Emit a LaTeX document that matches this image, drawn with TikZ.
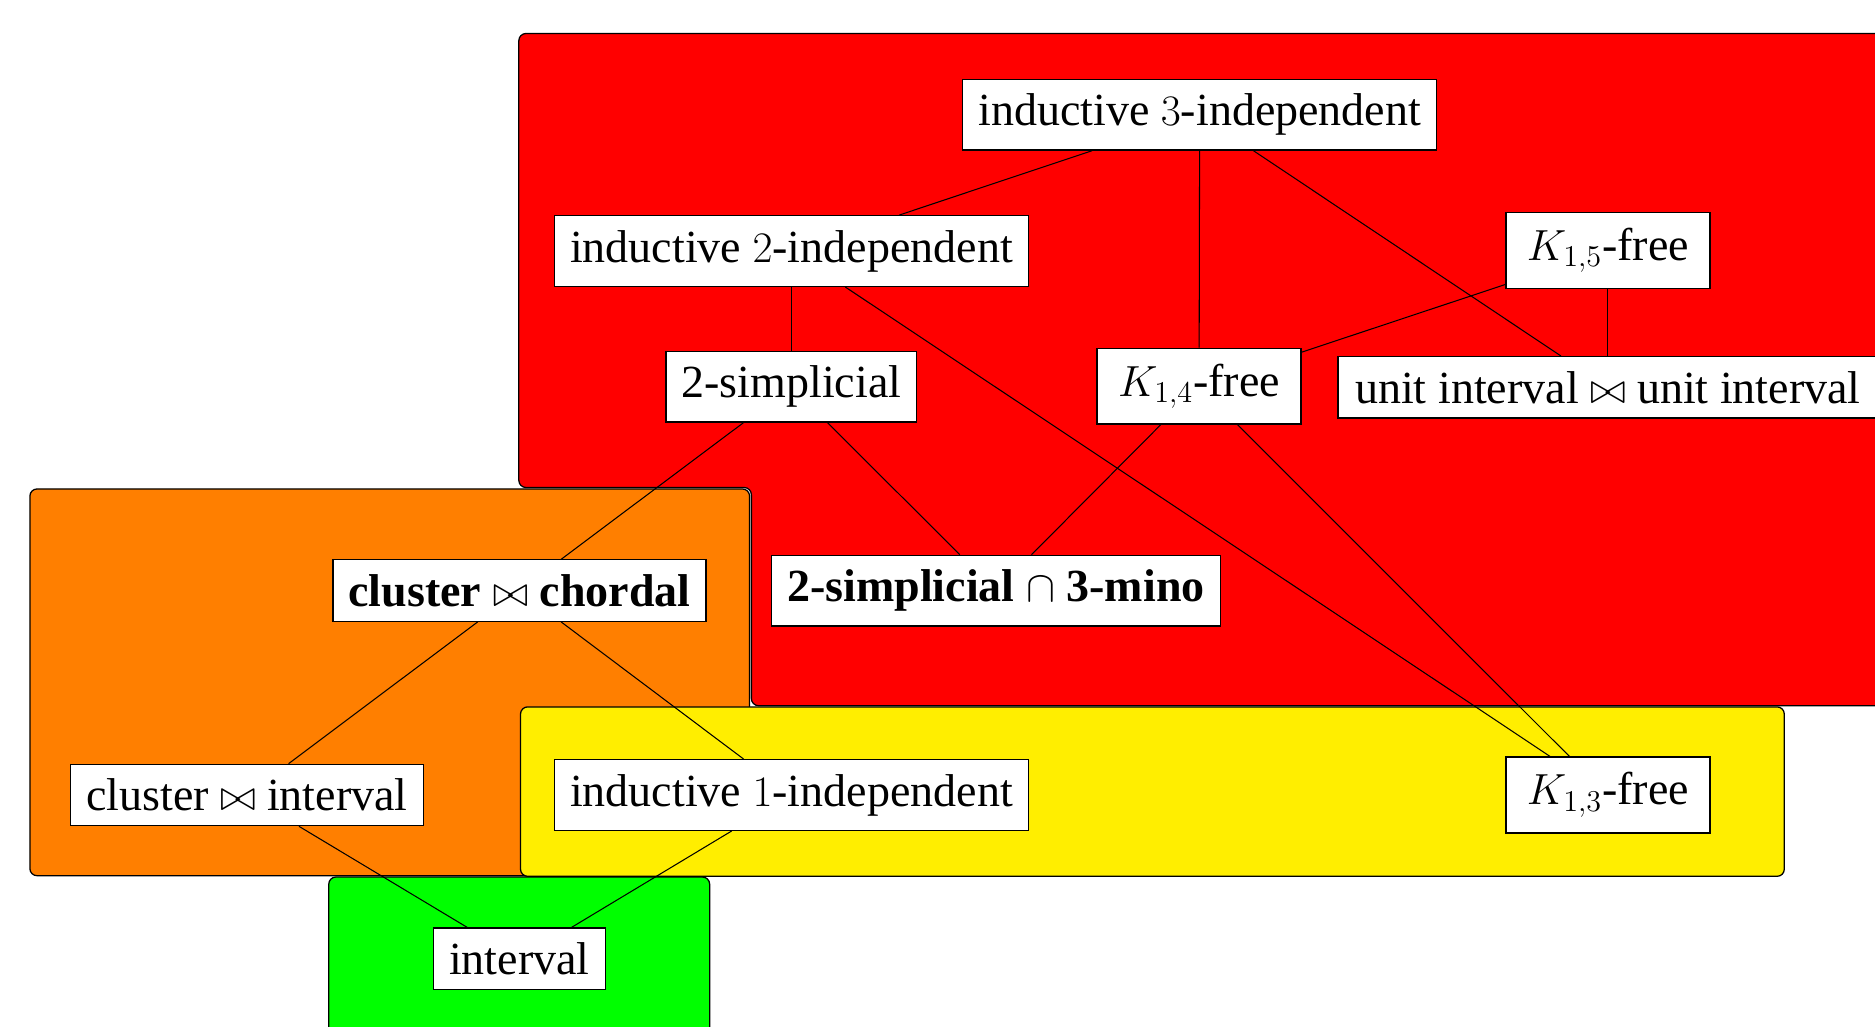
\documentclass[tikz,border=0pt]{standalone}
\usepackage{fontspec}
\setmainfont{Liberation Serif}
\definecolor{regred}{RGB}{255,0,0}
\definecolor{regorange}{RGB}{255,127,0}
\definecolor{regyellow}{RGB}{255,238,0}
\definecolor{reggreen}{RGB}{0,255,0}
\tikzset{
  region/.style={draw=black, line width=0.6pt, rounded corners=3.4pt},
  cls/.style={draw=black, fill=white, line width=0.6pt, inner xsep=7.4pt, inner ysep=6.9pt,
    font=\fontsize{21.9}{26}\selectfont},
  kcls/.style={cls, inner xsep=10pt, inner ysep=7.4pt},
  bcls/.style={cls, font=\fontsize{21.9}{26}\selectfont\bfseries},
  edge/.style={draw=black, line width=0.5pt}
}
\begin{document}
\begin{tikzpicture}[x=0.02cm, y=-0.02cm]
\useasboundingbox (0,0) rectangle (1568.4,858.7);
\clip (0,0) rectangle (1568.4,858.7);
% regions
\path[region, fill=regred] (434,28) -- (1700,28) -- (1700,590.3) -- (628.5,590.3) -- (628.5,407.8) -- (434,407.8) -- cycle;
\path[region, fill=regorange] (25,409) rectangle (627,732.5);
\path[region, fill=regyellow] (435.4,591.3) rectangle (1492.5,733);
\path[region, fill=reggreen] (275,733.6) rectangle (593.6,900);
% nodes
\node[cls] (ind3) at (1003.5,96) {inductive $3$-independent};
\node[cls] (ind2) at (662,210) {inductive $2$-independent};
\node[kcls] (k15) at (1345,209.5) {$K_{1,5}$-free};
\node[cls] (simp) at (662,323.5) {2-simplicial};
\node[kcls] (k14) at (1003,323) {$K_{1,4}$-free};
\node[cls, inner xsep=8.2pt] (unit) at (1345,324) {unit interval $\bowtie$ unit interval};
\node[bcls] (cc) at (434.5,494) {cluster $\bowtie$ chordal};
\node[bcls] (sm) at (833,494) {2-simplicial $\cap$ 3-mino};
\node[cls] (ci) at (206.5,665) {cluster $\bowtie$ interval};
\node[cls] (ind1) at (662,665) {inductive $1$-independent};
\node[kcls] (k13) at (1345,665) {$K_{1,3}$-free};
\node[cls] (intv) at (434.5,802) {interval};
% edges
\path[edge] (ind3) -- (ind2);
\path[edge] (ind3) -- (k14);
\path[edge] (ind3) -- (unit);
\path[edge] (ind2) -- (simp);
\path[edge] (ind2) -- (k13);
\path[edge] (k15) -- (k14);
\path[edge] (k15) -- (unit);
\path[edge] (simp) -- (cc);
\path[edge] (simp) -- (sm);
\path[edge] (k14) -- (sm);
\path[edge] (k14) -- (k13);
\path[edge] (cc) -- (ci);
\path[edge] (cc) -- (ind1);
\path[edge] (ci) -- (intv);
\path[edge] (ind1) -- (intv);
\end{tikzpicture}
\end{document}
